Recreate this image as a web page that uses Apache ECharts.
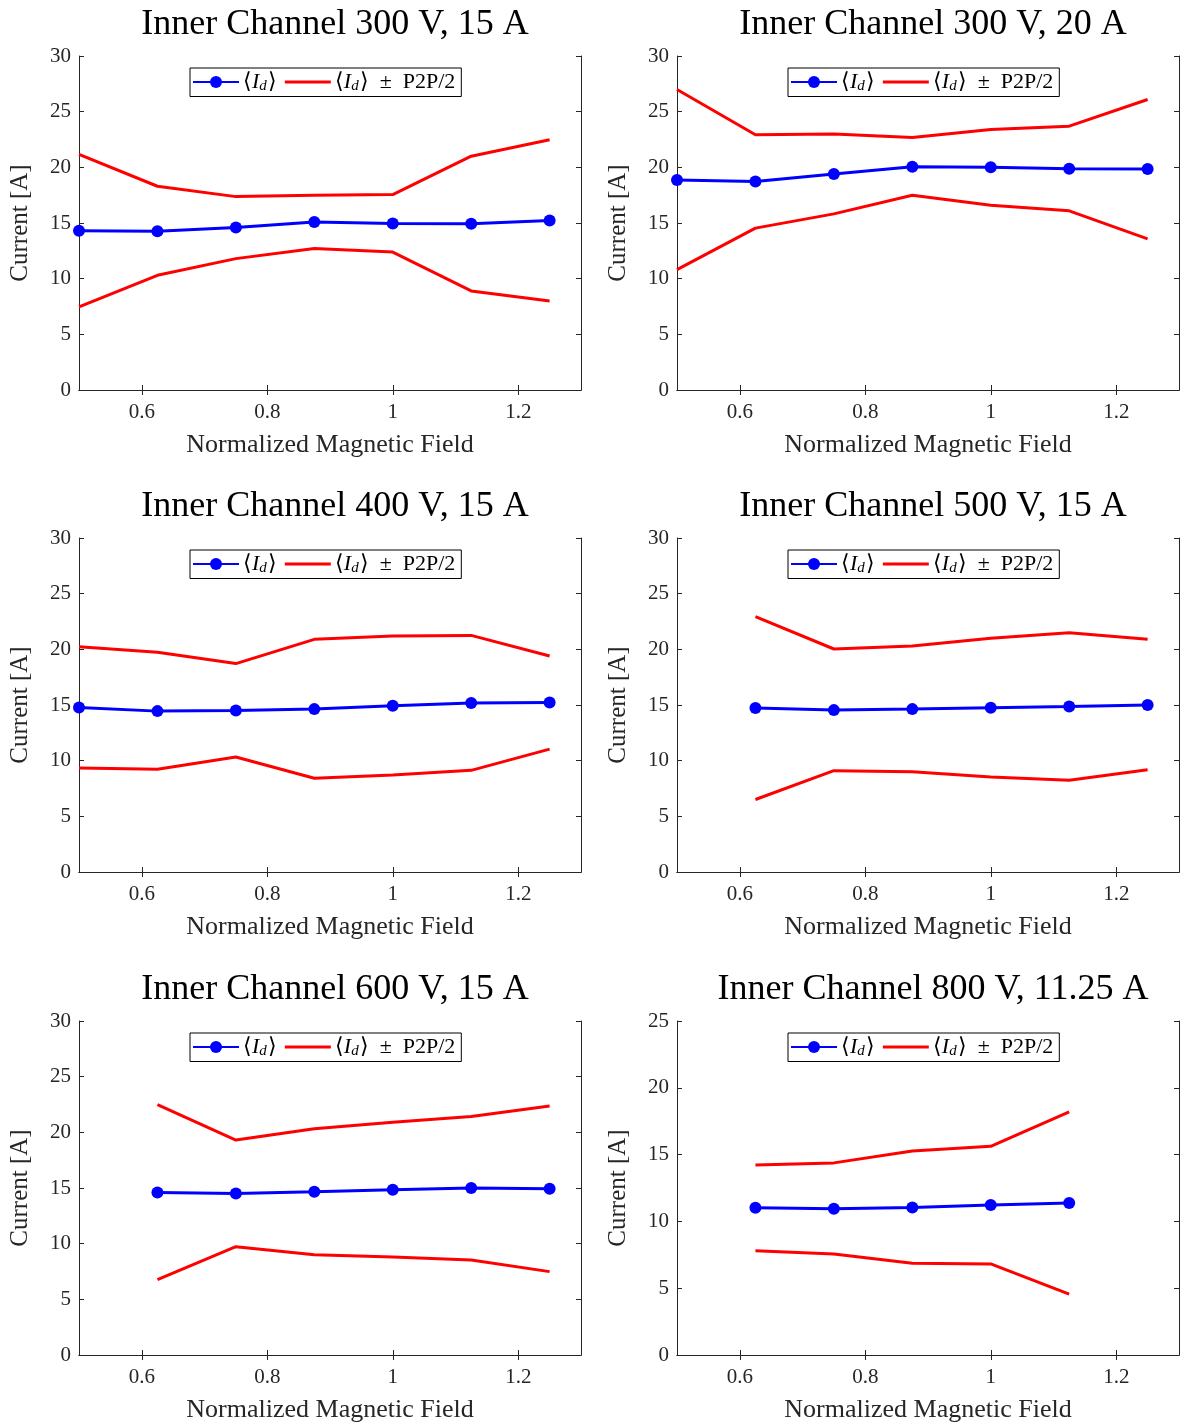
<!DOCTYPE html>
<html>
<head>
<meta charset="utf-8">
<script src="https://cdn.jsdelivr.net/npm/echarts@6/dist/echarts.min.js"></script>
<style>
  html, body { margin: 0; padding: 0; background: #fff; }
  #main { width: 1182px; height: 1425px; }
</style>
</head>
<body>
<div id="main"></div>
<script>
// normalized magnetic field values
var fieldFull = [0.5, 0.625, 0.75, 0.875, 1.0, 1.125, 1.25];
var fieldPart = [0.625, 0.75, 0.875, 1.0, 1.125, 1.25];
var fieldShort = [0.625, 0.75, 0.875, 1.0, 1.125];
var xTicks = [0.6, 0.8, 1.0, 1.2];

var titles = [
  'Inner Channel 300 V, 15 A',
  'Inner Channel 300 V, 20 A',
  'Inner Channel 400 V, 15 A',
  'Inner Channel 500 V, 15 A',
  'Inner Channel 600 V, 15 A',
  'Inner Channel 800 V, 11.25 A'
];
var yMax = [30, 30, 30, 30, 30, 25];

// <I_d>, upper and lower (mean +- P2P/2)
var mean300v15 = [14.3, 14.25, 14.6, 15.1, 14.95, 14.93, 15.22];
var upper300v15 = [21.16, 18.3, 17.37, 17.5, 17.55, 21.0, 22.48];
var lower300v15 = [7.46, 10.3, 11.8, 12.7, 12.39, 8.9, 8.0];

var mean300v20 = [18.87, 18.72, 19.4, 20.06, 20.0, 19.88, 19.85];
var upper300v20 = [26.99, 22.93, 23.0, 22.69, 23.4, 23.7, 26.09];
var lower300v20 = [10.81, 14.54, 15.82, 17.49, 16.6, 16.09, 13.58];

var mean400v15 = [14.78, 14.45, 14.5, 14.63, 14.93, 15.19, 15.22];
var upper400v15 = [20.24, 19.73, 18.72, 20.9, 21.19, 21.25, 19.4];
var lower400v15 = [9.34, 9.22, 10.33, 8.42, 8.72, 9.13, 11.04];

var mean500v15 = [14.72, 14.54, 14.63, 14.75, 14.87, 15.01];
var upper500v15 = [22.93, 20.03, 20.3, 20.99, 21.49, 20.9];
var lower500v15 = [6.51, 9.1, 9.01, 8.54, 8.24, 9.19];

var mean600v15 = [14.6, 14.51, 14.66, 14.84, 14.99, 14.93];
var upper600v15 = [22.48, 19.31, 20.33, 20.9, 21.43, 22.36];
var lower600v15 = [6.78, 9.73, 9.01, 8.81, 8.54, 7.49];

var mean800v11 = [11.02, 10.95, 11.04, 11.22, 11.37];
var upper800v11 = [14.23, 14.38, 15.27, 15.62, 18.2];
var lower800v11 = [7.81, 7.56, 6.87, 6.82, 4.55];

var panels = [
  { x: fieldFull, mean: mean300v15, upper: upper300v15, lower: lower300v15 },
  { x: fieldFull, mean: mean300v20, upper: upper300v20, lower: lower300v20 },
  { x: fieldFull, mean: mean400v15, upper: upper400v15, lower: lower400v15 },
  { x: fieldPart, mean: mean500v15, upper: upper500v15, lower: lower500v15 },
  { x: fieldPart, mean: mean600v15, upper: upper600v15, lower: lower600v15 },
  { x: fieldShort, mean: mean800v11, upper: upper800v11, lower: lower800v11 }
];

function zip(xs, ys) {
  return xs.map(function (x, i) { return [x, ys[i]]; });
}

var font = 'Liberation Serif';
var axisColor = '#262626';
var colLeft = [79, 677];
var rowTop = [56, 538, 1021];
var gw = 502, gh = 334;

var grid = [], xAxis = [], yAxis = [], series = [], title = [], legend = [];

panels.forEach(function (p, i) {
  var col = i % 2, row = Math.floor(i / 2);
  var left = colLeft[col], top = rowTop[row];

  grid.push({ left: left, top: top, width: gw, height: gh, containLabel: false });

  title.push({
    text: titles[i],
    left: left + gw / 2,
    top: top - 54,
    textAlign: 'center',
    textStyle: { fontFamily: font, fontSize: 36, fontWeight: 'normal', color: '#000' }
  });

  var tickStyle = { show: true, inside: true, length: 5, lineStyle: { color: axisColor } };
  xAxis.push({
    gridIndex: i, type: 'value', min: 0.5, max: 1.3, position: 'bottom',
    name: 'Normalized Magnetic Field', nameLocation: 'middle', nameGap: 42,
    nameTextStyle: { fontFamily: font, fontSize: 26, color: axisColor },
    axisLine: { show: true, lineStyle: { color: axisColor } },
    axisTick: Object.assign({ customValues: xTicks }, tickStyle),
    axisLabel: { customValues: xTicks, fontFamily: font, fontSize: 21, color: axisColor, margin: 12 },
    splitLine: { show: false }
  });
  xAxis.push({
    gridIndex: i, type: 'value', min: 0.5, max: 1.3, position: 'top',
    axisLine: { show: true, lineStyle: { color: axisColor } },
    axisTick: Object.assign({ customValues: xTicks }, tickStyle),
    axisLabel: { show: false },
    splitLine: { show: false }
  });
  yAxis.push({
    gridIndex: i, type: 'value', min: 0, max: yMax[i], interval: 5, position: 'left',
    name: 'Current [A]', nameLocation: 'middle', nameGap: 46,
    nameTextStyle: { fontFamily: font, fontSize: 25, color: axisColor },
    axisLine: { show: true, lineStyle: { color: axisColor } },
    axisTick: tickStyle,
    axisLabel: { fontFamily: font, fontSize: 21, color: axisColor, margin: 8 },
    splitLine: { show: false }
  });
  yAxis.push({
    gridIndex: i, type: 'value', min: 0, max: yMax[i], interval: 5, position: 'right',
    axisLine: { show: true, lineStyle: { color: axisColor } },
    axisTick: tickStyle,
    axisLabel: { show: false },
    splitLine: { show: false }
  });

  var xi = i * 2, yi = i * 2;
  var red = { color: '#ff0000', width: 3 };
  series.push({
    name: 'mean', type: 'line', xAxisIndex: xi, yAxisIndex: yi,
    data: zip(p.x, p.mean), symbol: 'circle', symbolSize: 12,
    itemStyle: { color: '#0000ff' }, lineStyle: { color: '#0000ff', width: 3 }, z: 3
  });
  series.push({
    name: 'p2p', type: 'line', xAxisIndex: xi, yAxisIndex: yi,
    data: zip(p.x, p.upper), symbol: 'none', showSymbol: false,
    itemStyle: { color: '#ff0000' }, lineStyle: red
  });
  series.push({
    name: 'p2p', type: 'line', xAxisIndex: xi, yAxisIndex: yi,
    data: zip(p.x, p.lower), symbol: 'none', showSymbol: false,
    itemStyle: { color: '#ff0000' }, lineStyle: red
  });

  legend.push({
    data: [
      { name: 'mean' },
      { name: 'p2p', icon: 'path://M0,0 L46,0 L46,3 L0,3 Z', itemStyle: { color: '#ff0000' } }
    ],
    left: left + 111, top: top + 12,
    orient: 'horizontal',
    itemWidth: 46, itemHeight: 15, itemGap: 8,
    padding: [3, 6, 3, 2],
    borderColor: '#000', borderWidth: 1, borderRadius: 0,
    selectedMode: false,
    formatter: function (name) {
      var base = '{a|⟨}{i|I}{s|d}{a|⟩}';
      return name === 'mean' ? base : base + '{a|  ±  P2P/2}';
    },
    textStyle: {
      fontFamily: font, fontSize: 22, color: '#000', padding: [0, 0, 0, -1],
      rich: {
        a: { fontFamily: font, fontSize: 22, color: '#000' },
        i: { fontFamily: font, fontSize: 22, fontStyle: 'italic', color: '#000' },
        s: { fontFamily: font, fontSize: 15, fontStyle: 'italic', color: '#000', verticalAlign: 'bottom', padding: [8, 1, 0, 0] }
      }
    }
  });
});

var chart = echarts.init(document.getElementById('main'));
chart.setOption({
  animation: false,
  backgroundColor: '#fff',
  title: title,
  legend: legend,
  grid: grid,
  xAxis: xAxis,
  yAxis: yAxis,
  series: series
});
</script>
</body>
</html>
